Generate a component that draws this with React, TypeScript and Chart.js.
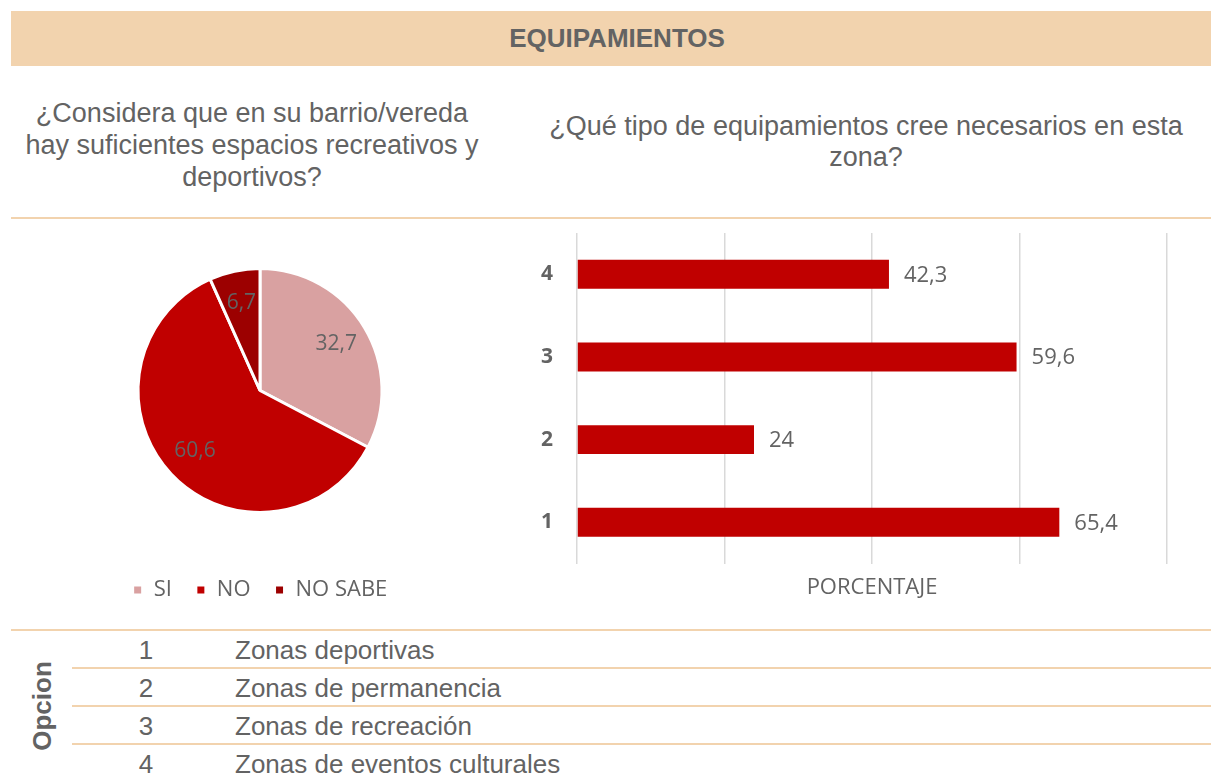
import React, { useEffect, useRef } from 'react';
import { Chart, registerables } from 'chart.js';

Chart.register(...registerables);

// ---------- data ----------
const headerTitle = 'EQUIPAMIENTOS';
const pieQuestion = ['¿Considera que en su barrio/vereda', 'hay suficientes espacios recreativos y', 'deportivos?'];
const barQuestion = ['¿Qué tipo de equipamientos cree necesarios en esta', 'zona?'];

const pieLabels = ['SI', 'NO', 'NO SABE'];
const pieValues = [32.7, 60.6, 6.7];
const pieColors = ['#D9A1A1', '#C00000', '#9C0000'];

const barCategories = ['1', '2', '3', '4'];
const barValues = [65.4, 24, 59.6, 42.3];
const barAxisMin = 0;
const barAxisMax = 80;
const barAxisStep = 20;
const barAxisTitle = 'PORCENTAJE';
const barColor = '#C00000';

const optionHeader = 'Opcion';
const optionNumbers = ['1', '2', '3', '4'];
const optionNames = ['Zonas deportivas', 'Zonas de permanencia', 'Zonas de recreación', 'Zonas de eventos culturales'];

// ---------- styles ----------
const TEXT = '#636363';
const BEIGE = '#F2D3AE';
const CHART_FONT = '"Open Sans", sans-serif';
const fmt = (v: number) => String(v).replace('.', ',');

const pieLabelPlugin = {
  id: 'pieValueLabels',
  afterDatasetsDraw(chart: any) {
    const ctx = chart.ctx;
    const meta = chart.getDatasetMeta(0);
    ctx.save();
    ctx.font = `21px ${CHART_FONT}`;
    ctx.fillStyle = TEXT;
    ctx.textAlign = 'center';
    ctx.textBaseline = 'middle';
    meta.data.forEach((arc: any, i: number) => {
      const p = arc.getProps(['x', 'y', 'startAngle', 'endAngle', 'outerRadius'], true);
      const mid = (p.startAngle + p.endAngle) / 2;
      const r = p.outerRadius * 0.73;
      ctx.fillText(fmt(pieValues[i]), p.x + Math.cos(mid) * r, p.y + Math.sin(mid) * r);
    });
    ctx.restore();
  },
};

const barLabelPlugin = {
  id: 'barValueLabels',
  afterDatasetsDraw(chart: any) {
    const ctx = chart.ctx;
    const meta = chart.getDatasetMeta(0);
    ctx.save();
    ctx.font = `22px ${CHART_FONT}`;
    ctx.fillStyle = TEXT;
    ctx.textAlign = 'left';
    ctx.textBaseline = 'middle';
    meta.data.forEach((bar: any, i: number) => {
      ctx.fillText(fmt(barValues[i]), bar.x + 15, bar.y + 1);
    });
    ctx.restore();
  },
};

function PieChart() {
  const ref = useRef<HTMLCanvasElement>(null);
  useEffect(() => {
    if (!ref.current) return;
    const chart = new Chart(ref.current, {
      type: 'pie',
      data: {
        labels: pieLabels,
        datasets: [
          {
            data: pieValues,
            backgroundColor: pieColors,
            borderColor: '#ffffff',
            borderWidth: 3,
            radius: 122,
            hoverOffset: 0,
          },
        ],
      },
      options: {
        animation: false,
        responsive: false,
        layout: { padding: { left: 8, right: 0, top: 2, bottom: 0 } },
        plugins: {
          legend: {
            display: true,
            position: 'bottom',
            labels: {
              boxWidth: 10,
              boxHeight: 10,
              padding: 24,
              color: TEXT,
              font: { family: CHART_FONT, size: 22 },
            },
          },
          tooltip: { enabled: false },
        },
      },
      plugins: [pieLabelPlugin],
    } as any);
    return () => chart.destroy();
  }, []);
  return <canvas ref={ref} width={500} height={387} style={{ position: 'absolute', left: 6, top: 224 }} />;
}

function BarChart() {
  const ref = useRef<HTMLCanvasElement>(null);
  useEffect(() => {
    if (!ref.current) return;
    const chart = new Chart(ref.current, {
      type: 'bar',
      data: {
        labels: barCategories,
        datasets: [
          {
            data: barValues,
            backgroundColor: barColor,
            borderWidth: 0,
            categoryPercentage: 1,
            barPercentage: 0.35,
          },
        ],
      },
      options: {
        indexAxis: 'y',
        animation: false,
        responsive: false,
        layout: { autoPadding: false, padding: { left: 0, right: 44, top: 11, bottom: 5 } },
        plugins: { legend: { display: false }, tooltip: { enabled: false } },
        scales: {
          x: {
            min: barAxisMin,
            max: barAxisMax,
            ticks: { display: false, stepSize: barAxisStep },
            grid: { color: '#D9D9D9', lineWidth: 1.5, drawTicks: false },
            border: { display: false },
            title: {
              display: true,
              text: barAxisTitle,
              color: TEXT,
              font: { family: CHART_FONT, size: 22 },
              padding: { top: 11, bottom: 4 },
            },
            afterFit: (scale: any) => {
              scale.paddingLeft = 0;
              scale.paddingRight = 0;
            },
          },
          y: {
            reverse: true,
            grid: { display: false, drawTicks: false },
            border: { display: false },
            ticks: {
              color: TEXT,
              padding: 24,
              font: { family: CHART_FONT, size: 21, weight: 'bold' },
            },
            afterFit: (scale: any) => {
              scale.width = 66;
              scale.paddingTop = 0;
              scale.paddingBottom = 0;
            },
          },
        },
      },
      plugins: [barLabelPlugin],
    } as any);
    return () => chart.destroy();
  }, []);
  return <canvas ref={ref} width={700} height={388} style={{ position: 'absolute', left: 511, top: 222 }} />;
}

export default function App() {
  const arial = '"Liberation Sans", Arial, sans-serif';
  const rowTops = [630, 668, 706, 744];
  return (
    <div
      style={{
        position: 'absolute',
        left: 0,
        top: 0,
        width: 1211,
        height: 776,
        overflow: 'hidden',
        background: '#ffffff',
        fontFamily: arial,
        color: TEXT,
      }}
    >
      {/* header band */}
      <div style={{ position: 'absolute', left: 11, top: 11, width: 1200, height: 55, background: BEIGE }} />
      <div
        style={{
          position: 'absolute',
          left: 317,
          top: 25,
          width: 600,
          textAlign: 'center',
          fontWeight: 'bold',
          fontSize: 26,
          lineHeight: '26px',
          whiteSpace: 'nowrap',
        }}
      >
        {headerTitle}
      </div>

      {/* questions */}
      <div
        style={{
          position: 'absolute',
          left: 2,
          top: 97,
          width: 500,
          textAlign: 'center',
          fontSize: 27,
          lineHeight: '32px',
          whiteSpace: 'nowrap',
        }}
      >
        {pieQuestion.map((l, i) => (
          <div key={i}>{l}</div>
        ))}
      </div>
      <div
        style={{
          position: 'absolute',
          left: 516,
          top: 111,
          width: 700,
          textAlign: 'center',
          fontSize: 27,
          lineHeight: '31px',
          whiteSpace: 'nowrap',
        }}
      >
        {barQuestion.map((l, i) => (
          <div key={i}>{l}</div>
        ))}
      </div>

      {/* separator */}
      <div style={{ position: 'absolute', left: 11, top: 217, width: 1200, height: 2, background: BEIGE }} />

      <PieChart />
      <BarChart />

      {/* options table */}
      <div style={{ position: 'absolute', left: 11, top: 629, width: 1200, height: 2, background: BEIGE }} />
      {[668, 706, 744].map((y) => (
        <div key={y} style={{ position: 'absolute', left: 72, top: y - 1, width: 1139, height: 2, background: BEIGE }} />
      ))}
      <div
        style={{
          position: 'absolute',
          left: 42 - 60,
          top: 706 - 15,
          width: 120,
          height: 30,
          lineHeight: '30px',
          textAlign: 'center',
          fontWeight: 'bold',
          fontSize: 26,
          transform: 'rotate(-90deg)',
          whiteSpace: 'nowrap',
        }}
      >
        {optionHeader}
      </div>
      {optionNumbers.map((n, i) => (
        <div
          key={n}
          style={{
            position: 'absolute',
            top: rowTops[i] + 1,
            left: 0,
            width: 1211,
            height: 38,
            lineHeight: '38px',
            fontSize: 26,
            whiteSpace: 'nowrap',
          }}
        >
          <span style={{ position: 'absolute', left: 106, width: 80, textAlign: 'center' }}>{n}</span>
          <span style={{ position: 'absolute', left: 235 }}>{optionNames[i]}</span>
        </div>
      ))}
    </div>
  );
}
